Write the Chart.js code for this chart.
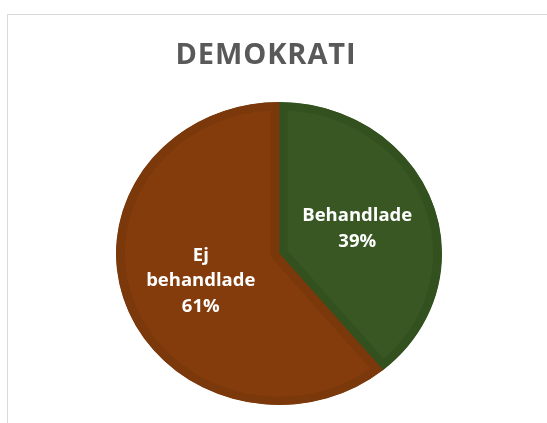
<!DOCTYPE html>
<html>
<head>
<meta charset="utf-8">
<script src="https://cdn.jsdelivr.net/npm/chart.js@4/dist/chart.umd.min.js"></script>
<style>
  html, body { margin: 0; padding: 0; background: #fff; }
  #wrap { position: relative; width: 547px; height: 423px; }
</style>
</head>
<body>
<div id="wrap"><canvas id="pieChart" width="547" height="423"></canvas></div>
<script>
        // Data
        const title = 'DEMOKRATI';
        const categories = ['Behandlade', 'Ej behandlade'];
        const values = [39, 61];
        const fillColors = ['#385723', '#843c0c'];
        const edgeColors = ['#33511f', '#7a380b'];

        const labelFont = 'bold 18.5px "Open Sans"';
        const stretchX = 1.076;

        // Excel-style frame + title
        const framePlugin = {
            id: 'frame',
            beforeDraw(chart) {
                const ctx = chart.ctx;
                ctx.save();
                ctx.strokeStyle = '#d9d9d9';
                ctx.lineWidth = 1;
                ctx.strokeRect(7.5, 14.5, 600, 500);
                ctx.fillStyle = '#595959';
                ctx.font = 'bold 29px "Open Sans"';
                ctx.letterSpacing = '0.9px';
                ctx.textAlign = 'center';
                ctx.textBaseline = 'alphabetic';
                ctx.fillText(title, 266, 63.5);
                ctx.restore();
            }
        };

        // Pie is a little wider than tall in the original
        const stretchPlugin = {
            id: 'stretch',
            beforeDatasetsDraw(chart) {
                const arc = chart.getDatasetMeta(0).data[0];
                const ctx = chart.ctx;
                ctx.save();
                ctx.translate(arc.x, 0);
                ctx.scale(stretchX, 1);
                ctx.translate(-arc.x, 0);
            },
            afterDatasetsDraw(chart) {
                chart.ctx.restore();
            }
        };

        function wrapText(ctx, text, maxWidth) {
            const words = text.split(' ');
            const lines = [];
            let line = '';
            words.forEach(w => {
                const test = line ? line + ' ' + w : w;
                if (line && ctx.measureText(test).width > maxWidth) {
                    lines.push(line);
                    line = w;
                } else {
                    line = test;
                }
            });
            lines.push(line);
            return lines;
        }

        // Data labels inside slices
        const labelPlugin = {
            id: 'sliceLabels',
            afterDatasetsDraw(chart) {
                const ctx = chart.ctx;
                const total = values.reduce((a, b) => a + b, 0);
                ctx.save();
                ctx.font = labelFont;
                ctx.fillStyle = '#ffffff';
                ctx.textAlign = 'center';
                ctx.textBaseline = 'alphabetic';
                chart.getDatasetMeta(0).data.forEach((arc, i) => {
                    const mid = (arc.startAngle + arc.endAngle) / 2;
                    const r = arc.outerRadius * 0.51;
                    const cx = arc.x + Math.cos(mid) * r * stretchX;
                    const cy = arc.y + Math.sin(mid) * r;
                    const pct = Math.round(values[i] / total * 100) + '%';
                    const lines = wrapText(ctx, categories[i], 122).concat([pct]);
                    const lh = 25.5;
                    lines.forEach((t, j) => {
                        const y = cy + (j - (lines.length - 1) / 2) * lh + 6.5;
                        ctx.fillText(t, cx, y);
                    });
                });
                ctx.restore();
            }
        };

        const pieChart = new Chart(
            document.getElementById('pieChart'),
            {
                type: 'pie',
                data: {
                    labels: categories,
                    datasets: [
                        {
                            data: values,
                            backgroundColor: fillColors,
                            borderColor: edgeColors,
                            borderWidth: 8,
                            borderAlign: 'inner',
                            hoverOffset: 0,
                            hoverBorderWidth: 8
                        }
                    ]
                },
                options: {
                    responsive: false,
                    animation: false,
                    events: [],
                    layout: {
                        padding: { left: 127.5, right: 116.5, top: 102, bottom: 18 }
                    },
                    plugins: {
                        legend: { display: false },
                        tooltip: { enabled: false },
                        title: { display: false }
                    }
                },
                plugins: [framePlugin, stretchPlugin, labelPlugin]
            }
        );
</script>
</body>
</html>
